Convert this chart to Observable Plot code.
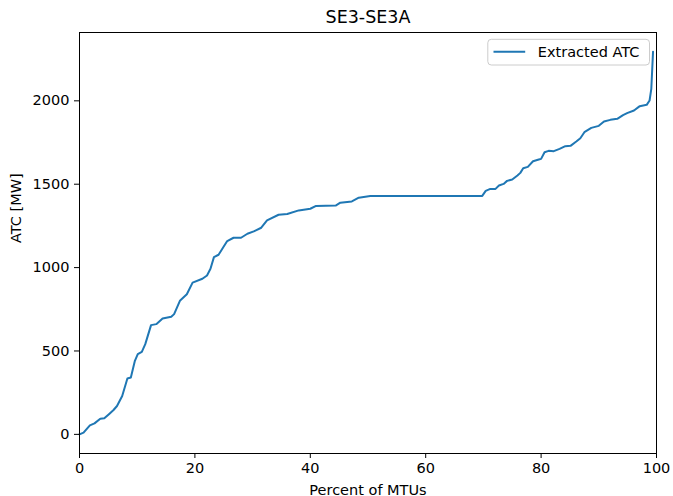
<!DOCTYPE html>
<html>
<head>
<meta charset="utf-8">
<script src="https://cdn.jsdelivr.net/npm/d3@7"></script>
<script src="https://cdn.jsdelivr.net/npm/@observablehq/plot@0.6"></script>
<style>
  html, body { margin: 0; padding: 0; background: #fff; }
  #chart { width: 673px; height: 496px; }
  svg { font-family: "DejaVu Sans", sans-serif; }
</style>
</head>
<body>
<div id="chart"></div>
<script>
const title = "SE3-SE3A";
const xLabel = "Percent of MTUs";
const yLabel = "ATC [MW]";
const seriesName = "Extracted ATC";
const xTicks = [0, 20, 40, 60, 80, 100];
const yTicks = [0, 500, 1000, 1500, 2000];

const pct = [0, 0.7, 1.8, 2.6, 3.6, 4.3, 5.2, 5.9, 6.5, 7.4, 8.3, 8.9, 9.6, 10.1, 10.8, 11.4, 12.4, 13.3, 14.4, 15.9, 16.4, 17.4, 18.6, 19.6, 21.3, 22.1, 22.7, 23.3, 24.1, 25.6, 26.7, 28.0, 29.1, 30.2, 31.5, 32.5, 34.5, 36.0, 38.0, 40.0, 41.0, 44.4, 45.2, 47.2, 48.4, 50.4,
  69.8, 70.4, 71.2, 72.1, 72.7, 73.5, 74.1, 75.0, 75.9, 76.4, 76.9, 77.7, 78.6, 79.6, 80.0, 80.6, 81.3, 82.2, 83.2, 84.2, 85.1, 86.1, 86.8, 87.5, 88.7, 90.0, 90.9, 92.0, 93.2, 94.2, 94.9, 96.1, 97.1, 98.3, 98.8, 99.1, 99.4];
const atc = [0, 10, 54, 66, 94, 96, 124, 146, 170, 230, 335, 341, 441, 481, 495, 541, 655, 661, 695, 705, 721, 801, 840, 910, 933, 953, 993, 1063, 1077, 1159, 1179, 1179, 1203, 1217, 1239, 1283, 1317, 1321, 1343, 1353, 1370, 1372, 1389, 1397, 1419, 1429,
  1430, 1460, 1472, 1472, 1492, 1502, 1520, 1528, 1552, 1568, 1596, 1604, 1638, 1648, 1652, 1692, 1700, 1698, 1712, 1728, 1730, 1756, 1776, 1812, 1838, 1850, 1876, 1886, 1892, 1914, 1926, 1942, 1968, 1976, 2002, 2072, 2295];

const data = pct.map((p, i) => ({pct: p, atc: atc[i]}));
const ymax = d3.max(atc), ymin = 0, pad = (ymax - ymin) * 0.05;

const W = 673, H = 496;
const mL = 79, mR = 17, mT = 32, mB = 43;
const fs = 14.5;

const plot = Plot.plot({
  width: W, height: H,
  marginLeft: mL, marginRight: mR, marginTop: mT, marginBottom: mB,
  style: {fontFamily: "DejaVu Sans, sans-serif", fontSize: fs + "px", color: "#000", background: "#fff"},
  x: {domain: [0, 100], label: null},
  y: {domain: [ymin - pad, ymax + pad], label: null},
  marks: [
    Plot.line(data, {x: "pct", y: "atc", stroke: "#1f77b4", strokeWidth: 2}),
    Plot.frame({stroke: "#000", strokeWidth: 1}),
    Plot.axisX({ticks: xTicks, tickSize: 5, tickPadding: 4, tickFormat: d3.format("d"), stroke: "#000", fill: "#000", fontSize: fs, label: null}),
    Plot.axisY({ticks: yTicks, tickSize: 5, tickPadding: 5, tickFormat: d3.format("d"), stroke: "#000", fill: "#000", fontSize: fs, label: null}),
    Plot.text([title], {frameAnchor: "top", dy: -15, fontSize: 17.5, fill: "#000", lineAnchor: "middle"}),
    Plot.text([xLabel], {frameAnchor: "bottom", dy: 41, fontSize: fs, fill: "#000", lineAnchor: "bottom"}),
    Plot.text([yLabel], {frameAnchor: "left", dx: -63, rotate: -90, fontSize: fs, fill: "#000", lineAnchor: "middle"})
  ]
});

document.getElementById("chart").appendChild(plot);

// legend in the upper right of the axes
const svg = d3.select(plot);
const lw = 161.7, lh = 25.7;
const lg = svg.append("g").attr("transform", `translate(${W - mR - 6.5 - lw}, ${mT + 7.3})`);
lg.append("rect").attr("width", lw).attr("height", lh).attr("rx", 3.5)
  .attr("fill", "#fff").attr("fill-opacity", 0.8).attr("stroke", "#cccccc").attr("stroke-width", 1);
lg.append("line").attr("x1", 5.7).attr("x2", 37.4).attr("y1", 12.4).attr("y2", 12.4)
  .attr("stroke", "#1f77b4").attr("stroke-width", 2);
lg.append("text").attr("x", 50).attr("y", 18).attr("text-anchor", "start")
  .attr("font-size", fs).attr("fill", "#000").text(seriesName);
</script>
</body>
</html>
